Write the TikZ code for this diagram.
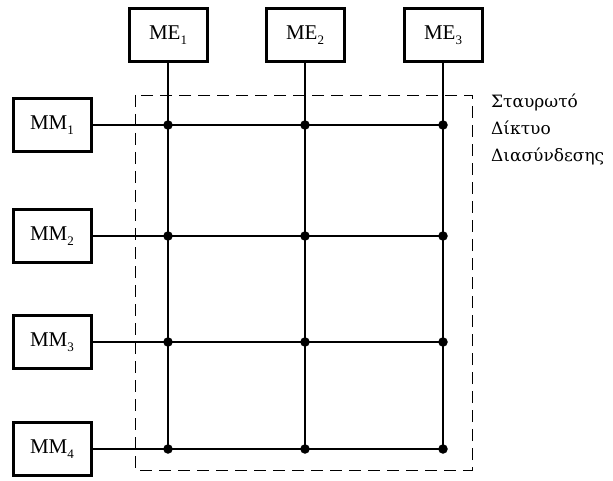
\documentclass[tikz,border=0pt]{standalone}
\usepackage{fontspec}
\setmainfont{Liberation Serif}
\newfontfamily\greekfont{DejaVu Serif}
\newcommand{\sbs}[1]{\raisebox{-0.5ex}{\fontsize{13}{13}\selectfont #1}}
\begin{document}
\begin{tikzpicture}[x=1pt,y=1pt,
  unit/.style={draw,line width=3pt,minimum width=78pt,minimum height=53pt,inner sep=0pt,font=\fontsize{21}{21}\selectfont},
  wire/.style={line width=1.8pt},
  jdot/.style={circle,fill,inner sep=0pt,minimum size=9.5pt},
  frame/.style={line width=0.9pt,dash pattern=on 12pt off 7pt},
  lbl/.style={font=\greekfont\fontsize{17}{27}\selectfont,align=left,anchor=north west,inner sep=0pt}]
\useasboundingbox (0,0) rectangle (613,-481);
% dashed frame
\draw[frame] (135,-95) rectangle (472,-470);
% units
\node[unit] (me1) at (168,-35) {ME\sbs{1}};
\node[unit] (me2) at (305,-35) {ME\sbs{2}};
\node[unit] (me3) at (443,-35) {ME\sbs{3}};
\node[unit] (mm1) at (52,-125) {MM\sbs{1}};
\node[unit] (mm2) at (52,-236) {MM\sbs{2}};
\node[unit] (mm3) at (52,-342) {MM\sbs{3}};
\node[unit] (mm4) at (52,-449) {MM\sbs{4}};
% crosspoints
\foreach \c/\x in {1/168,2/305,3/443}{
  \foreach \r/\y in {1/-125,2/-236,3/-342,4/-449}{
    \coordinate (p\c\r) at (\x,\y);
  }
}
\foreach \c in {1,2,3}{\draw[wire] (me\c) -- (p\c4);}
\foreach \r in {1,2,3,4}{\draw[wire] (mm\r) -- (p3\r);}
\foreach \c in {1,2,3}{
  \foreach \r in {1,2,3,4}{
    \node[jdot] (d\c\r) at (p\c\r) {};
  }
}
\node[lbl] (title) at (491,-94) {Σταυρωτό\\Δίκτυο\\Διασύνδεσης};
\end{tikzpicture}
\end{document}
